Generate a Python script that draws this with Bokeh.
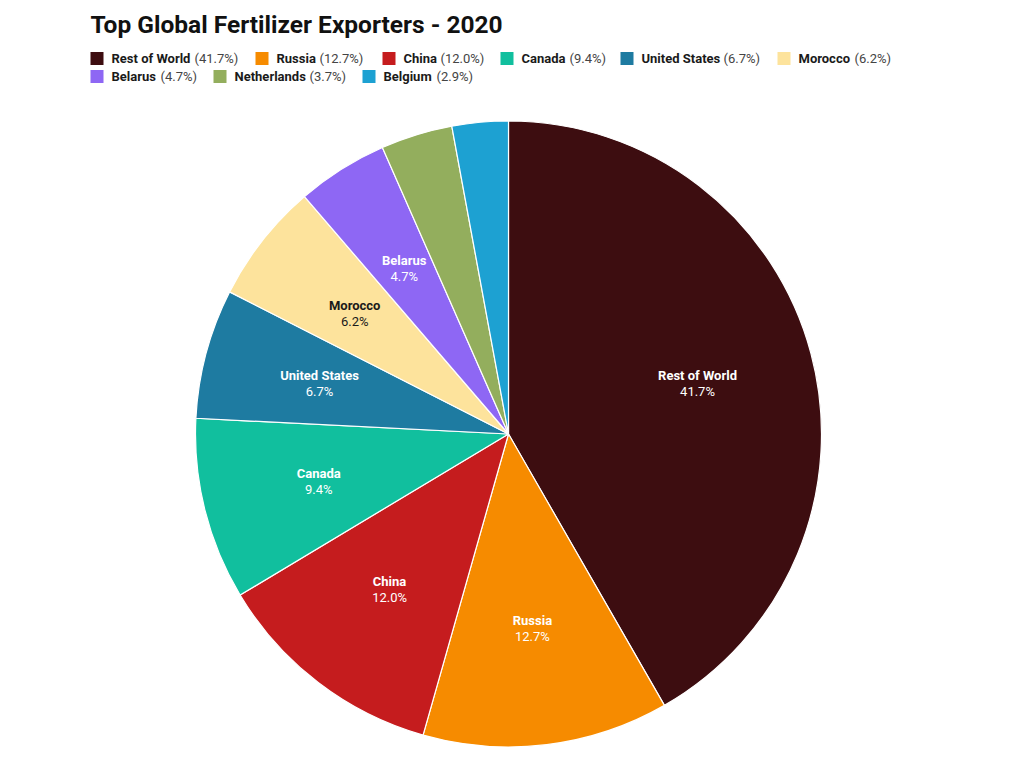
import math
from bokeh.plotting import figure
from bokeh.models import Range1d, ColumnDataSource
from bokeh.core.properties import value
from bokeh.embed import file_html
from bokeh.resources import INLINE

# ---- data ----
countries = ["Rest of World", "Russia", "China", "Canada", "United States",
             "Morocco", "Belarus", "Netherlands", "Belgium"]
shares = [41.7, 12.7, 12.0, 9.4, 6.7, 6.2, 4.7, 3.7, 2.9]
colors = ["#3d0d10", "#f68b00", "#c51c1e", "#11bf9e", "#1e7ba1",
          "#fde39c", "#8e67f4", "#93ae5d", "#1da1d2"]
label_colors = ["white", "white", "white", "white", "white",
                "#1a1a1a", "white", "white", "white"]
title_text = "Top Global Fertilizer Exporters - 2020"

# ---- layout (pixels) ----
W, H = 1024, 768
CX, CY, R = 508, 433.5, 313
LABEL_R = 0.625 * R
FONT = value("Roboto")
legend_rows = [[0, 1, 2, 3, 4, 5], [6, 7, 8]]
legend_row_y = [58, 76]
legend_sq_x = [[90, 255, 382, 500, 620, 777], [90, 213, 362]]
name_w = {0: 79, 1: 39, 2: 33, 3: 44, 4: 78, 5: 52, 6: 45, 7: 71, 8: 49}

def Y(py):
    return H - py

p = figure(width=W, height=H, x_range=Range1d(0, W), y_range=Range1d(0, H),
           output_backend="svg", toolbar_location=None, min_border=0,
           background_fill_color="white", border_fill_color="white")
p.axis.visible = False
p.grid.visible = False
p.outline_line_color = None

# wedges
total = sum(shares)
starts, ends, mids = [], [], []
cum = 0.0
for s in shares:
    a0 = math.pi / 2 - 2 * math.pi * cum / total
    cum += s
    a1 = math.pi / 2 - 2 * math.pi * cum / total
    starts.append(a0)
    ends.append(a1)
    mids.append((a0 + a1) / 2)

src = ColumnDataSource(dict(x=[CX] * len(shares), y=[Y(CY)] * len(shares),
                            start=starts, end=ends, color=colors))
p.wedge(x="x", y="y", radius=R, start_angle="start", end_angle="end",
        direction="clock", fill_color="color", line_color="white",
        line_width=1.2, source=src)

# slice labels
lx, ly1, ly2, ln, lp, lc = [], [], [], [], [], []
for i, s in enumerate(shares):
    if s < 4.0:
        continue
    x = CX + LABEL_R * math.cos(mids[i])
    y = Y(CY) + LABEL_R * math.sin(mids[i])
    lx.append(x)
    ly1.append(y + 8)
    ly2.append(y - 8)
    ln.append(countries[i])
    lp.append(f"{s:.1f}%")
    lc.append(label_colors[i])
p.text(x=lx, y=ly1, text=ln, text_color=lc, text_font=FONT,
       text_font_style="bold", text_font_size="13px",
       text_align="center", text_baseline="middle")
p.text(x=lx, y=ly2, text=lp, text_color=lc, text_font=FONT,
       text_font_size="13px", text_align="center", text_baseline="middle")

# title
p.text(x=[90], y=[Y(24)], text=[title_text], text_font=FONT,
       text_font_style="bold", text_font_size="24.5px", text_color="#111111",
       text_align="left", text_baseline="middle")

# legend
sqx, sqy, sqc, nx, ny, nt, px_, pt = [], [], [], [], [], [], [], []
for r, row in enumerate(legend_rows):
    for j, idx in enumerate(row):
        x0 = legend_sq_x[r][j]
        yy = Y(legend_row_y[r])
        sqx.append(x0 + 6.5)
        sqy.append(yy)
        sqc.append(colors[idx])
        nx.append(x0 + 21)
        ny.append(yy)
        nt.append(countries[idx])
        px_.append(x0 + 21 + name_w[idx] + 4)
        pt.append(f"({shares[idx]:.1f}%)")
p.rect(x=sqx, y=sqy, width=13, height=13, fill_color=sqc, line_color=None)
p.text(x=nx, y=ny, text=nt, text_font=FONT, text_font_style="bold",
       text_font_size="13px", text_color="#1a1a1a", text_align="left",
       text_baseline="middle")
p.text(x=px_, y=ny, text=pt, text_font=FONT, text_font_size="13px",
       text_color="#444444", text_align="left", text_baseline="middle")

open("out.html", "w").write(file_html(p, INLINE))
